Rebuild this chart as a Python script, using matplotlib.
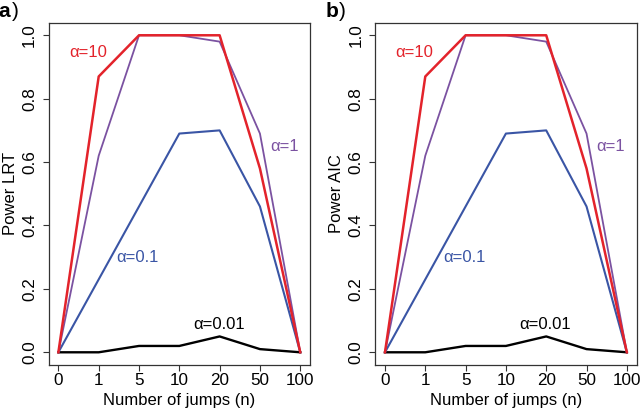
import numpy as np
import matplotlib
matplotlib.use('Agg')
import matplotlib.pyplot as plt

plt.rcParams['font.family'] = ['Liberation Sans', 'DejaVu Sans']

jumps = ['0', '1', '5', '10', '20', '50', '100']
power_a10 = [0, 0.87, 1.0, 1.0, 1.0, 0.58, 0]
power_a1 = [0, 0.62, 1.0, 1.0, 0.98, 0.69, 0]
power_a01 = [0, 0.23, 0.46, 0.69, 0.70, 0.46, 0]
power_a001 = [0, 0, 0.02, 0.02, 0.05, 0.01, 0]

col_red = '#e3232b'
col_purple = '#7b52a1'
col_blue = '#3a55a5'

fig = plt.figure(figsize=(6.41, 4.11), dpi=100)

panels = [('a', 'Power LRT', 0.076), ('b', 'Power AIC', 0.5855)]

for tag, ylab, left in panels:
    ax = fig.add_axes([left, 0.112, 0.4075, 0.833])
    xx = np.arange(len(jumps))
    ax.plot(xx, power_a001, color='black', lw=1.7)
    ax.plot(xx, power_a01, color=col_blue, lw=1.5)
    ax.plot(xx, power_a1, color=col_purple, lw=1.3)
    ax.plot(xx, power_a10, color=col_red, lw=1.8)

    ax.set_xlim(-0.24, 6.24)
    ax.set_ylim(-0.04, 1.04)
    ax.set_xticks(xx)
    ax.set_xticklabels(jumps)
    ax.set_yticks([0, 0.2, 0.4, 0.6, 0.8, 1.0])
    ax.set_yticklabels(['0.0', '0.2', '0.4', '0.6', '0.8', '1.0'], rotation=90, va='center')
    ax.tick_params(labelsize=12.3, length=4.5, width=0.8, direction='out', color='#333333')
    ax.tick_params(axis='x', pad=1)
    ax.tick_params(axis='y', pad=4)
    ax.set_xlabel('Number of jumps (n)', fontsize=12)
    ax.set_ylabel(ylab, fontsize=12)
    ax.xaxis.label.set_va('center')
    ax.yaxis.label.set_va('center')
    ax.xaxis.set_label_coords(0.5, -0.105)
    ax.yaxis.set_label_coords(-0.148, 0.5)
    for s in ax.spines.values():
        s.set_linewidth(0.9)
        s.set_color('#333333')

    ax.text(0.73, 0.946, 'α=10', color=col_red, fontsize=12, ha='center', va='center')
    ax.text(5.6, 0.648, 'α=1', color=col_purple, fontsize=12, ha='center', va='center')
    ax.text(1.97, 0.30, 'α=0.1', color=col_blue, fontsize=12, ha='center', va='center')
    ax.text(3.98, 0.088, 'α=0.01', color='black', fontsize=12, ha='center', va='center')

    fig.text(left - 0.078, 0.972, tag, fontsize=15, fontweight='bold', ha='left', va='center')
    fig.text(left - 0.078 + 0.0205, 0.972, ')', fontsize=15, ha='left', va='center')

fig.savefig('out.png', dpi=100)
